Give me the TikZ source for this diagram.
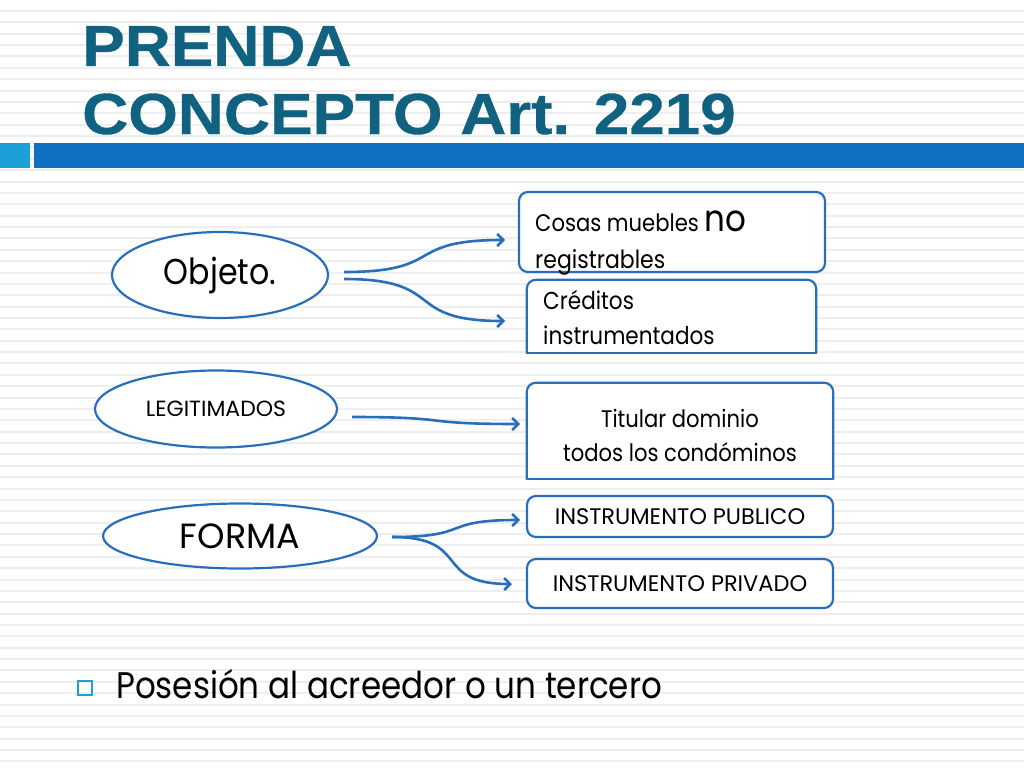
\documentclass[tikz,border=0pt]{standalone}
\usepackage{fontspec}
\setmainfont{Poppins}[FakeStretch=0.88]
\newfontfamily\capsfont{Poppins}
\newfontfamily\titlefont{Liberation Sans}[FakeStretch=1.1,FakeBold=0.6]
\usetikzlibrary{shapes.geometric, arrows.meta}
\definecolor{titleteal}{RGB}{16,98,128}
\definecolor{barblue}{RGB}{16,112,194}
\definecolor{barcyan}{RGB}{27,161,216}
\definecolor{lineblue}{RGB}{40,110,185}
\definecolor{stripegray}{RGB}{238,238,238}

\begin{document}
\begin{tikzpicture}[x=1pt,y=-1pt,
    elli/.style={ellipse,draw=lineblue,line width=2.2pt,fill=white,inner sep=0pt},
    box/.style={rectangle,rounded corners=9pt,draw=lineblue,line width=2.2pt,fill=white,inner sep=0pt,minimum width=306pt},
    topbox/.style={rectangle,fill=white,inner sep=0pt},
    edgeline/.style={lineblue,line width=2.2pt},
    link/.style={lineblue,line width=2.6pt,out=0,in=180,looseness=1.6,-{Straight Barb[length=6pt,width=12pt]}},
    txt/.style={inner sep=0pt,anchor=base west}]

\useasboundingbox (0,0) rectangle (1024,768);
\fill[white] (0,0) rectangle (1024,768);
\foreach \i in {0,...,67}
  \fill[stripegray] (0,{10+11.37*\i}) rectangle (1024,{12+11.37*\i});

\node[txt,text=titleteal,font=\titlefont\bfseries\fontsize{58}{60}\selectfont] (head1) at (82,66) {PRENDA};
\node[txt,text=titleteal,font=\titlefont\bfseries\fontsize{58}{60}\selectfont] (head2) at (82,134) {CONCEPTO Art. 2219};
\fill[barcyan] (0,143) rectangle (30,168);
\fill[barblue] (34,143) rectangle (1024,168);

\node[elli,minimum width=216pt,minimum height=86pt,font=\fontsize{36}{40}\selectfont] (obj) at (220,275) {Objeto.};
\node[elli,minimum width=242pt,minimum height=77pt,font=\capsfont\fontsize{22}{24}\selectfont] (leg) at (216,409) {LEGITIMADOS};
\node[elli,minimum width=274pt,minimum height=65pt,font=\capsfont\fontsize{35}{38}\selectfont] (forma) at (240,536) {FORMA};

\node[box,minimum height=80pt] (cosas) at (672,232) {};
\node[txt,font=\fontsize{24}{26}\selectfont] (cosasA) at (535,231) {Cosas muebles \fontsize{37}{38}\selectfont no};
\node[txt,font=\fontsize{25}{26}\selectfont] (cosasB) at (535,268) {registrables};

\node[topbox,minimum width=289pt,minimum height=73pt] (cred) at (671.5,316.5) {};
\draw[edgeline,rounded corners=9pt] (cred.south west) -- (cred.north west) -- (cred.north east) -- (cred.south east);
\draw[edgeline,line cap=rect] (cred.south west) -- (cred.south east);
\node[txt,font=\fontsize{24.5}{26}\selectfont] (credA) at (543,309) {Créditos};
\node[txt,font=\fontsize{24.5}{26}\selectfont] (credB) at (543,344) {instrumentados};

\node[topbox,minimum width=306pt,minimum height=96pt] (tit) at (680,431) {};
\draw[edgeline,rounded corners=9pt] (tit.south west) -- (tit.north west) -- (tit.north east) -- (tit.south east);
\draw[edgeline,line cap=rect] (tit.south west) -- (tit.south east);
\node[inner sep=0pt,anchor=base,font=\fontsize{24}{26}\selectfont] (titA) at (680,427) {Titular dominio};
\node[inner sep=0pt,anchor=base,font=\fontsize{24}{26}\selectfont] (titB) at (680,461) {todos los condóminos};

\node[box,minimum height=41pt,font=\capsfont\fontsize{22.5}{24}\selectfont] (pub) at (680,516.5) {INSTRUMENTO PUBLICO};
\node[box,minimum height=49pt,font=\capsfont\fontsize{22.5}{24}\selectfont] (priv) at (680,583.5) {INSTRUMENTO PRIVADO};

\coordinate (objA) at (344,272);
\coordinate (objB) at (344,279);
\coordinate (legA) at (352,417);
\coordinate (forA) at (392,537);
\coordinate (cosasT) at (505,240);
\coordinate (credT) at (505,321);
\coordinate (titT) at (520,424);
\coordinate (pubT) at (520,520);
\coordinate (privT) at (512,584);

\path
(objA) edge[link] (cosasT)
(objB) edge[link] (credT)
(legA) edge[link] (titT)
(forA) edge[link] (pubT)
(forA) edge[link] (privT)
;

\node[draw=barcyan,line width=1.4pt,minimum size=14pt,inner sep=0pt] (bul) at (85,688) {};
\node[txt,font=\fontsize{37}{40}\selectfont] (pos) at (116,698) {Posesión al acreedor o un tercero};
\end{tikzpicture}
\end{document}
